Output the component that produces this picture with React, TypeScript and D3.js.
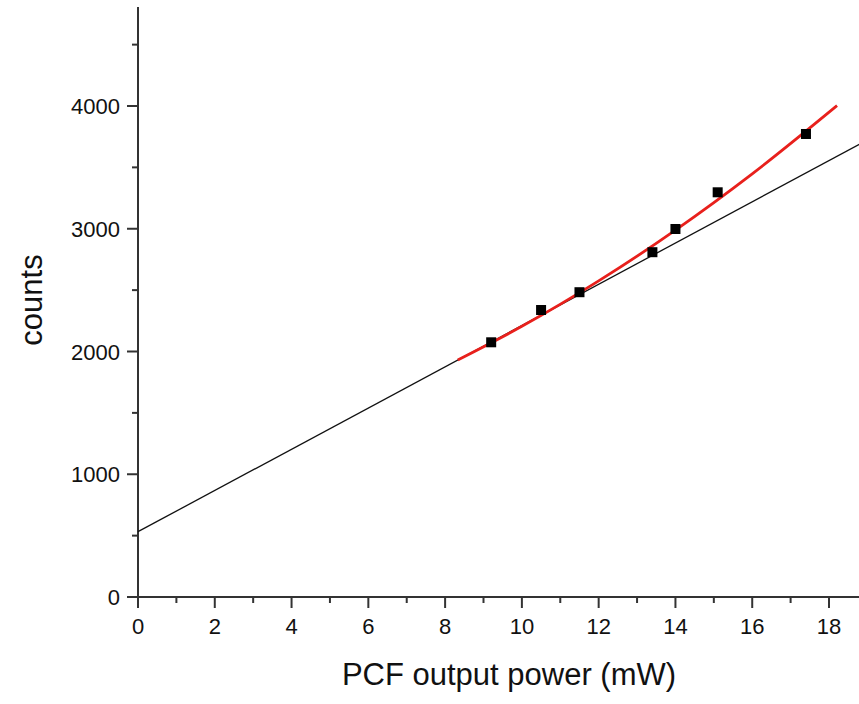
import React from "react";
import * as d3 from "d3";

const pointX = [9.2, 10.5, 11.5, 13.4, 14.0, 15.1, 17.4];
const pointY = [2075, 2338, 2483, 2809, 2998, 3297, 3772];

const linearX = [0, 18.8];
const linearY = [532, 3690];

const fitX = [8.33, 10, 12, 14, 16, 18.21];
const fitY = [1931, 2205, 2575, 2989, 3447, 4003];

const xMajor = [0, 2, 4, 6, 8, 10, 12, 14, 16, 18];
const xMinor = [1, 3, 5, 7, 9, 11, 13, 15, 17];
const yMajor = [0, 1000, 2000, 3000, 4000];
const yMinor = [500, 1500, 2500, 3500, 4500];

const W = 859;
const H = 704;
const FONT = "'Liberation Sans', Arial, sans-serif";

export default function App() {
  const x = d3.scaleLinear().domain([0, 18]).range([138, 829]);
  const y = d3.scaleLinear().domain([0, 4000]).range([597, 106]);
  const xEnd = 859;
  const yTop = 7;

  const lin = d3
    .line<number>()
    .x((_, i) => x(linearX[i]))
    .y((d) => y(d));
  const fit = d3
    .line<number>()
    .x((_, i) => x(fitX[i]))
    .y((d) => y(d))
    .curve(d3.curveMonotoneX);

  const axisColor = "#333";
  return (
    <svg
      width={W}
      height={H}
      style={{ position: "absolute", left: 0, top: 0, background: "#fff" }}
    >
      <rect x={0} y={0} width={W} height={H} fill="#fff" />
      {/* axes */}
      <line x1={x(0)} x2={x(0)} y1={yTop} y2={y(0)} stroke={axisColor} strokeWidth={2} />
      <line x1={x(0) - 1} x2={xEnd} y1={y(0)} y2={y(0)} stroke={axisColor} strokeWidth={2} />
      {xMajor.map((v) => (
        <g key={"xm" + v}>
          <line x1={x(v)} x2={x(v)} y1={y(0)} y2={y(0) + 11} stroke={axisColor} strokeWidth={2} />
          <text
            x={x(v)}
            y={634}
            textAnchor="middle"
            fontFamily={FONT}
            fontSize={22}
            fill="#111"
          >
            {v}
          </text>
        </g>
      ))}
      {xMinor.map((v) => (
        <line key={"xn" + v} x1={x(v)} x2={x(v)} y1={y(0)} y2={y(0) + 6} stroke={axisColor} strokeWidth={2} />
      ))}
      {yMajor.map((v) => (
        <g key={"ym" + v}>
          <line x1={x(0) - 11} x2={x(0)} y1={y(v)} y2={y(v)} stroke={axisColor} strokeWidth={2} />
          <text
            x={120}
            y={y(v) + 8}
            textAnchor="end"
            fontFamily={FONT}
            fontSize={22}
            fill="#111"
          >
            {v}
          </text>
        </g>
      ))}
      {yMinor.map((v) => (
        <line key={"yn" + v} x1={x(0) - 6} x2={x(0)} y1={y(v)} y2={y(v)} stroke={axisColor} strokeWidth={2} />
      ))}
      {/* linear fit line */}
      <path d={lin(linearY) || ""} fill="none" stroke="#111" strokeWidth={1.3} />
      {/* red fit curve */}
      <path d={fit(fitY) || ""} fill="none" stroke="#e8201c" strokeWidth={2.8} />
      {/* data points */}
      {pointY.map((v, i) => (
        <rect
          key={"p" + i}
          x={x(pointX[i]) - 5}
          y={y(v) - 5}
          width={10}
          height={10}
          fill="#000"
        />
      ))}
      {/* labels */}
      <text
        x={509}
        y={685}
        textAnchor="middle"
        fontFamily={FONT}
        fontSize={31}
        fill="#111"
      >
        PCF output power (mW)
      </text>
      <text
        transform={`translate(42,300) rotate(-90)`}
        textAnchor="middle"
        fontFamily={FONT}
        fontSize={31}
        fill="#111"
      >
        counts
      </text>
    </svg>
  );
}
